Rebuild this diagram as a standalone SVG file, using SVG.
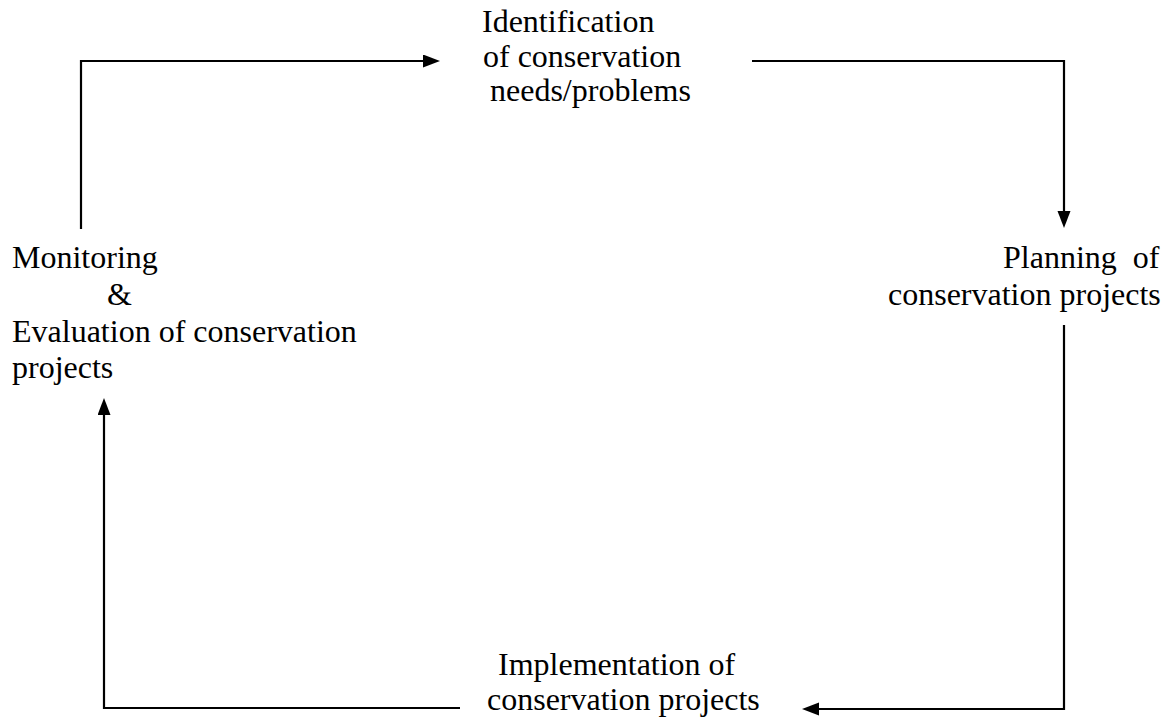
<svg xmlns="http://www.w3.org/2000/svg" width="1171" height="719" viewBox="0 0 1171 719">
<defs>
<style>
text{font-family:"Liberation Serif","Times New Roman",serif;font-size:32px;fill:#000;white-space:pre}
.conn{fill:none;stroke:#000;stroke-width:2.2;stroke-linejoin:miter}
</style>
<marker id="arr" markerUnits="userSpaceOnUse" markerWidth="18" markerHeight="14" refX="9" refY="6.5" orient="auto">
<path d="M0,0 L17,6.5 L0,13 z" fill="#000"/>
</marker>
</defs>
<rect width="1171" height="719" fill="#fff"/>
<g id="connectors">
<path class="conn" d="M81,229 V61 H432" marker-end="url(#arr)"/>
<path class="conn" d="M752,61 H1064 V220" marker-end="url(#arr)"/>
<path class="conn" d="M1064,325 V709 H810" marker-end="url(#arr)"/>
<path class="conn" d="M460,708 H104 V406" marker-end="url(#arr)"/>
</g>
<g id="identification">
<text x="482" y="32">Identification</text>
<text x="483" y="67">of conservation</text>
<text x="490" y="101">needs/problems</text>
</g>
<g id="planning">
<text x="1003" y="268">Planning  of</text>
<text x="888" y="305">conservation projects</text>
</g>
<g id="implementation">
<text x="498" y="675">Implementation of</text>
<text x="487" y="710">conservation projects</text>
</g>
<g id="monitoring">
<text x="12" y="268">Monitoring</text>
<text x="107" y="305">&amp;</text>
<text x="12" y="342">Evaluation of conservation</text>
<text x="12" y="378">projects</text>
</g>
</svg>
